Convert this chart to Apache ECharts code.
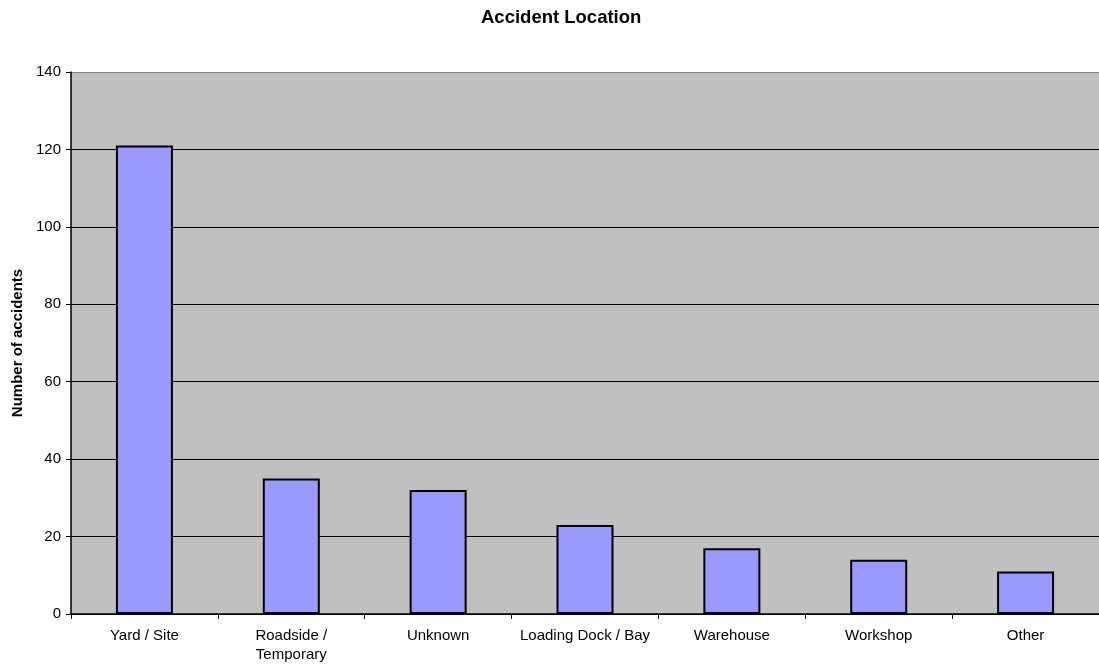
<!DOCTYPE html>
<html>
<head>
<meta charset="utf-8">
<script src="https://cdn.jsdelivr.net/npm/echarts@6/dist/echarts.min.js"></script>
<style>
  html, body { margin: 0; padding: 0; background: #fff; }
  #chart { width: 1099px; height: 664px; }
</style>
</head>
<body>
<div id="chart"></div>
<script>
const categories = ['Yard / Site', 'Roadside /\nTemporary', 'Unknown', 'Loading Dock / Bay', 'Warehouse', 'Workshop', 'Other'];
const accidents = [121, 35, 32, 23, 17, 14, 11];
const yTicks = [0, 20, 40, 60, 80, 100, 120, 140];

const font = '"Liberation Sans", Arial, sans-serif';
const chart = echarts.init(document.getElementById('chart'));

// top gridline (at the max) is grey like the plot border, the rest black
const gridColors = yTicks.map((v, i) => i === yTicks.length - 1 ? '#808080' : '#000');

chart.setOption({
  animation: false,
  title: {
    text: 'Accident Location',
    left: 476,
    top: 3,
    textStyle: { fontFamily: font, fontSize: 18.5, fontWeight: 'bold', color: '#000' }
  },
  grid: {
    left: 71, right: 0, top: 72, bottom: 50,
    show: true,
    backgroundColor: '#c0c0c0',
    borderWidth: 0
  },
  xAxis: {
    type: 'category',
    data: categories,
    axisLine: { lineStyle: { color: '#000', width: 1.5 } },
    axisTick: { show: true, length: 5, lineStyle: { color: '#000' } },
    axisLabel: { fontFamily: font, fontSize: 15, color: '#000', margin: 12, interval: 0, lineHeight: 19 },
    splitLine: { show: false }
  },
  yAxis: {
    type: 'value',
    min: yTicks[0],
    max: yTicks[yTicks.length - 1],
    interval: 20,
    name: 'Number of accidents',
    nameLocation: 'middle',
    nameGap: 46,
    nameRotate: 90,
    nameTextStyle: { fontFamily: font, fontSize: 15, fontWeight: 'bold', color: '#000' },
    axisLine: { show: true, lineStyle: { color: '#000', width: 1.5 } },
    axisTick: { show: true, length: 5, lineStyle: { color: '#000' } },
    axisLabel: { fontFamily: font, fontSize: 15, color: '#000', margin: 10 },
    splitLine: { show: true, lineStyle: { color: gridColors, width: 1 } }
  },
  series: [{
    type: 'bar',
    data: accidents,
    barWidth: 57,
    itemStyle: { color: '#9999ff', borderColor: '#000', borderWidth: 2 }
  }]
});
</script>
</body>
</html>
